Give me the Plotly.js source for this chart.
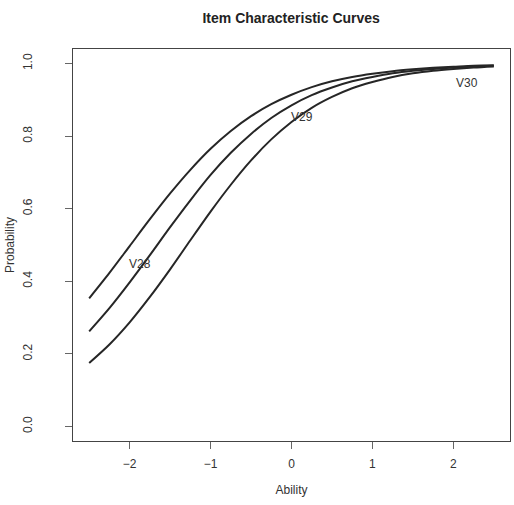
<!DOCTYPE html>
<html>
<head>
<meta charset="utf-8">
<script src="https://cdn.plot.ly/plotly-3.0.1.min.js"></script>
<style>html,body{margin:0;padding:0;background:#fff;}#chart{width:514px;height:505px;}</style>
</head>
<body>
<div id="chart"></div>
<script>
// Ability grid (x) and item probabilities
const ability = [-2.5, -2.25, -2.0, -1.75, -1.5, -1.25, -1.0, -0.75, -0.5, -0.25, 0.0,
                 0.25, 0.5, 0.75, 1.0, 1.25, 1.5, 1.75, 2.0, 2.25, 2.5];
const probV28 = [0.353, 0.423, 0.497, 0.571, 0.642, 0.707, 0.765, 0.814, 0.855, 0.888, 0.914,
                 0.935, 0.951, 0.963, 0.972, 0.979, 0.984, 0.988, 0.991, 0.994, 0.995];
const probV29 = [0.262, 0.326, 0.397, 0.472, 0.549, 0.623, 0.693, 0.754, 0.806, 0.850, 0.885,
                 0.913, 0.934, 0.951, 0.963, 0.973, 0.980, 0.985, 0.989, 0.992, 0.994];
const probV30 = [0.175, 0.226, 0.287, 0.357, 0.433, 0.513, 0.592, 0.666, 0.733, 0.791, 0.839,
                 0.878, 0.908, 0.932, 0.949, 0.963, 0.973, 0.980, 0.985, 0.989, 0.992];
const itemNames = ["V28", "V29", "V30"];
// label anchor positions (data units)
const labelX = [-1.87, 0.13, 2.17];
const labelY = [0.449, 0.854, 0.947];
const xTicks = [-2, -1, 0, 1, 2];
const yTicks = [0.0, 0.2, 0.4, 0.6, 0.8, 1.0];

const series = [probV28, probV29, probV30];
const traces = series.map((ys, i) => ({
  x: ability, y: ys, type: 'scatter', mode: 'lines', name: itemNames[i],
  line: {color: '#262626', width: 2, shape: 'spline', smoothing: 0.8},
  hoverinfo: 'skip'
}));

const fontFam = '"Liberation Sans", Arial, Helvetica, sans-serif';
const layout = {
  width: 514, height: 505,
  margin: {l: 73, r: 4, t: 49, b: 64},
  paper_bgcolor: '#fff', plot_bgcolor: '#fff',
  showlegend: false,
  font: {family: fontFam, color: '#333', size: 12},
  title: {text: '<b>Item Characteristic Curves</b>', x: 0.5665, xanchor: 'center', y: 0.965, yanchor: 'middle',
          font: {family: fontFam, size: 14, color: '#222'}},
  xaxis: {
    range: [-2.7, 2.7], tickvals: xTicks, ticktext: xTicks.map(v => v < 0 ? '\u2212' + Math.abs(v) : String(v)),
    showgrid: false, zeroline: false, showline: true, mirror: true, linecolor: '#444', linewidth: 1.2,
    ticks: 'outside', ticklen: 7, tickwidth: 1, tickcolor: '#666',
    tickfont: {family: fontFam, size: 12, color: '#333'}, ticklabelstandoff: 4,
    title: {text: 'Ability', font: {family: fontFam, size: 12, color: '#333'}, standoff: 16}
  },
  yaxis: {
    range: [-0.04, 1.04], tickvals: yTicks, ticktext: yTicks.map(v => v.toFixed(1)),
    tickangle: -90,
    showgrid: false, zeroline: false, showline: true, mirror: true, linecolor: '#444', linewidth: 1.2,
    ticks: 'outside', ticklen: 7, tickwidth: 1, tickcolor: '#666',
    tickfont: {family: fontFam, size: 12, color: '#333'}, ticklabelstandoff: 28,
    title: {text: 'Probability', font: {family: fontFam, size: 12, color: '#333'}, standoff: 3}
  },
  annotations: itemNames.map((n, i) => ({
    x: labelX[i], y: labelY[i], xref: 'x', yref: 'y', text: n, showarrow: false,
    xanchor: 'center', yanchor: 'middle', font: {family: fontFam, size: 12, color: '#333'}
  }))
};

Plotly.newPlot('chart', traces, layout, {displayModeBar: false, staticPlot: true});
</script>
</body>
</html>
